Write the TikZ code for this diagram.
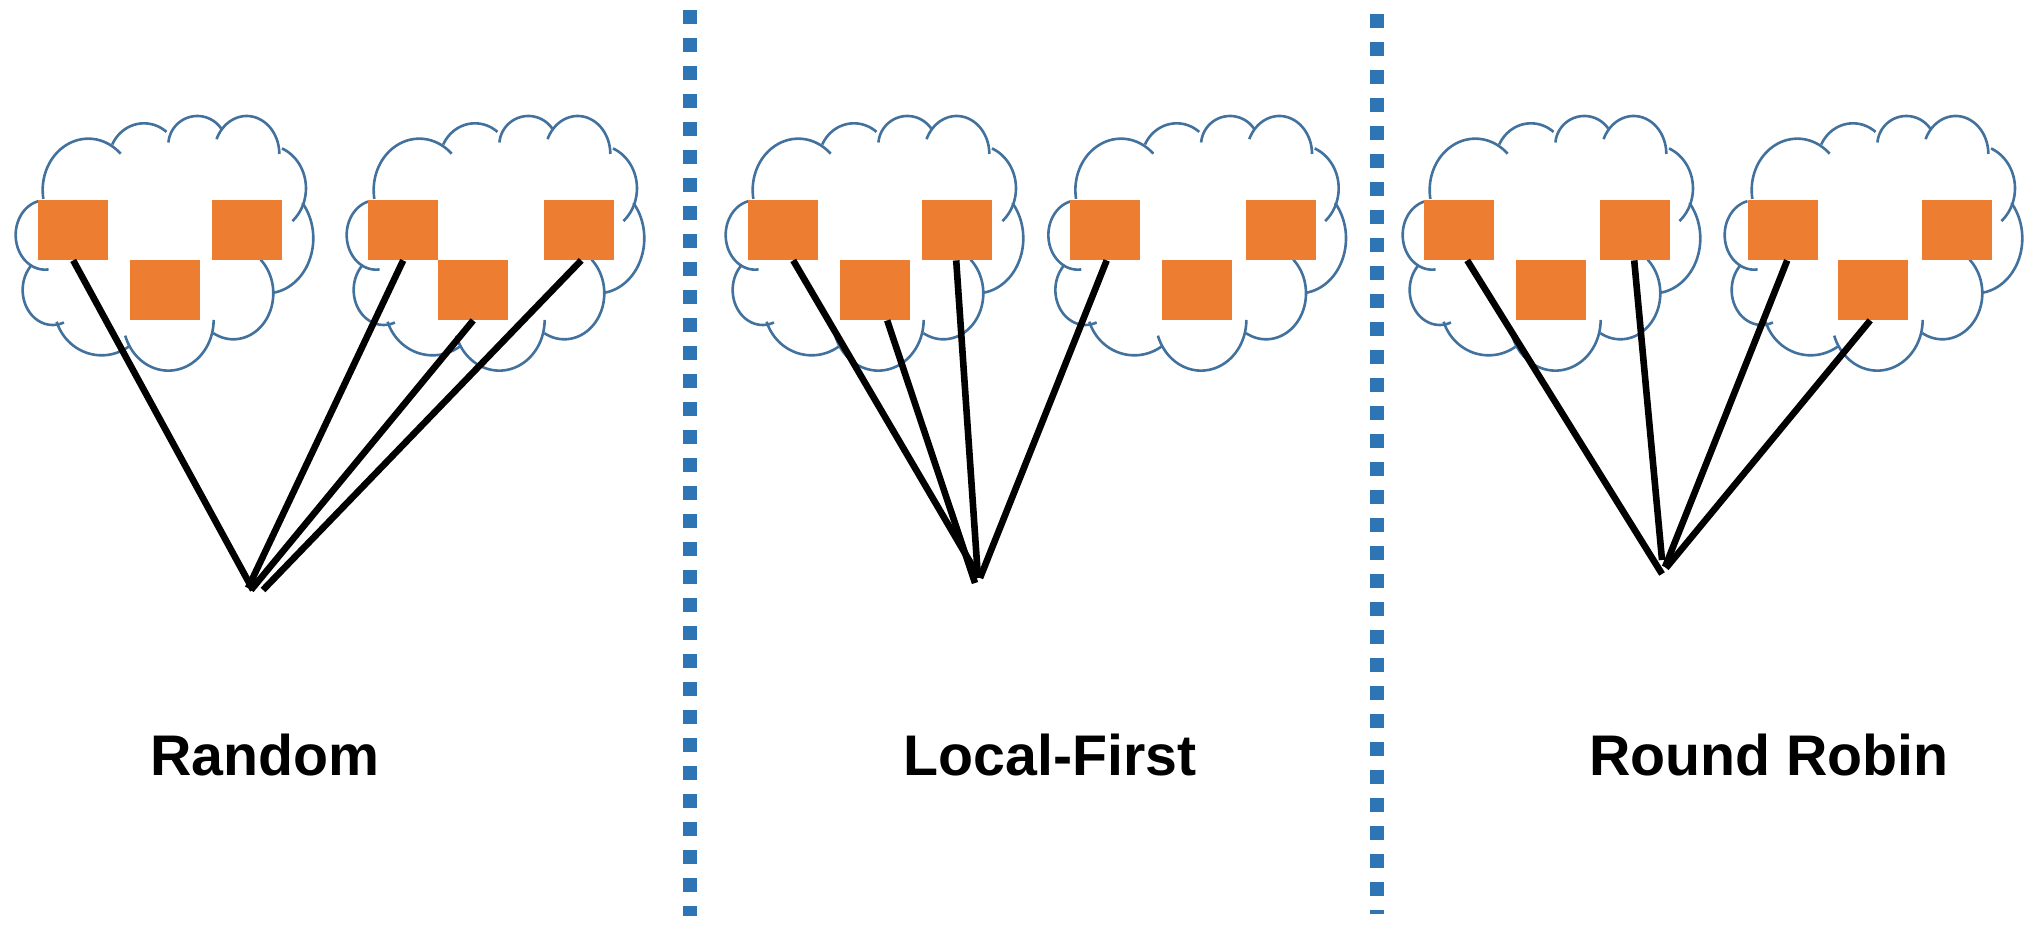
\documentclass[tikz,border=0pt]{standalone}
\usepackage{fontspec}
\setmainfont{Liberation Sans}
\definecolor{cloudline}{HTML}{41719C}
\definecolor{boxfill}{HTML}{ED7D31}
\definecolor{divider}{HTML}{2E75B6}
\tikzset{
  lobe/.style={draw=cloudline,line width=2.6pt},
  vm/.style={fill=boxfill,inner sep=0pt,minimum width=70pt,minimum height=60pt,anchor=north west},
  link/.style={draw=black,line width=6.6pt},
  sep/.style={draw=divider,line width=14pt,dash pattern=on 14pt off 14pt},
  caption/.style={font=\fontsize{57.3}{60}\selectfont\bfseries,anchor=base,inner sep=0pt}
}
% one lobe: centre x, centre y, x radius, y radius, start angle, end angle
\newcommand{\lobearc}[6]{\draw[lobe] plot[domain=#5:#6,samples=40,smooth,variable=\t] ({#1+#3*cos(\t)},{#2+#4*sin(\t)});}
\newcommand{\cloudat}[1]{%
  \begin{scope}[shift={(#1,90)},x=0.3333pt,y=-0.3333pt]
    \lobearc{265}{300}{137}{154}{170}{315}
    \lobearc{432}{210}{105}{110}{205}{310}
    \lobearc{592}{165}{87}{87}{185}{327}
    \lobearc{740}{192}{98}{114}{203}{360}
    \lobearc{800}{295}{118}{130}{293}{409}
    \lobearc{800}{445}{140}{165}{320}{442}
    \lobearc{700}{610}{120}{138}{-47}{120}
    \lobearc{505}{690}{136}{152}{0}{162}
    \lobearc{305}{650}{142}{146}{54}{162}
    \lobearc{158}{600}{90}{105}{68}{226}
    \lobearc{135}{435}{88}{104}{83}{257}
  \end{scope}}
\begin{document}
\begin{tikzpicture}[x=1pt,y=-1pt]
  \useasboundingbox (0,0) rectangle (2036,936);
  % clouds
  \cloudat{0}
  \cloudat{331}
  \cloudat{710}
  \cloudat{1032.7}
  \cloudat{1387}
  \cloudat{1709}
  % dividers
  \coordinate (d1a) at (690,10);
  \coordinate (d1b) at (690,916);
  \coordinate (d2a) at (1377,14);
  \coordinate (d2b) at (1377,914);
  \draw[sep] (d1a) -- (d1b);
  \draw[sep] (d2a) -- (d2b);
  % boxes: Random
  \node[vm] (a1) at (38,200) {};
  \node[vm] (a2) at (130,260) {};
  \node[vm] (a3) at (212,200) {};
  \node[vm] (a4) at (368,200) {};
  \node[vm] (a5) at (438,260) {};
  \node[vm] (a6) at (544,200) {};
  % boxes: Local-First
  \node[vm] (b1) at (748,200) {};
  \node[vm] (b2) at (840,260) {};
  \node[vm] (b3) at (922,200) {};
  \node[vm] (b4) at (1070,200) {};
  \node[vm] (b5) at (1162,260) {};
  \node[vm] (b6) at (1246,200) {};
  % boxes: Round Robin
  \node[vm] (c1) at (1424,200) {};
  \node[vm] (c2) at (1516,260) {};
  \node[vm] (c3) at (1600,200) {};
  \node[vm] (c4) at (1748,200) {};
  \node[vm] (c5) at (1838,260) {};
  \node[vm] (c6) at (1922,200) {};
  % free ends
  \coordinate (ha1) at (253,590);
  \coordinate (ha4) at (248,588);
  \coordinate (ha5) at (251,590);
  \coordinate (ha6) at (263,590);
  \coordinate (hb1) at (976,572);
  \coordinate (hb2) at (975,583);
  \coordinate (hb3) at (978,578);
  \coordinate (hb4) at (980,578);
  \coordinate (hc1) at (1662,574);
  \coordinate (hc3) at (1662,560);
  \coordinate (hc4) at (1665,567);
  \coordinate (hc5) at (1666,568);
  % connectors
  \draw[link] (a1.south) -- (ha1);
  \draw[link] (a4.south) -- (ha4);
  \draw[link] (a5.south) -- (ha5);
  \draw[link] ([xshift=2pt]a6.south) -- (ha6);
  \draw[link] ([xshift=10pt]b1.south) -- (hb1);
  \draw[link] ([xshift=12pt]b2.south) -- (hb2);
  \draw[link] ([xshift=-1pt]b3.south) -- (hb3);
  \draw[link] ([xshift=1.5pt]b4.south) -- (hb4);
  \draw[link] ([xshift=8pt]c1.south) -- (hc1);
  \draw[link] ([xshift=-1pt]c3.south) -- (hc3);
  \draw[link] ([xshift=4pt]c4.south) -- (hc4);
  \draw[link] ([xshift=-3pt]c5.south) -- (hc5);
  % captions
  \node[caption] (t1) at (265,775) {Random};
  \node[caption] (t2) at (1050,775) {Local-First};
  \node[caption] (t3) at (1769,775) {Round Robin};
\end{tikzpicture}
\end{document}
